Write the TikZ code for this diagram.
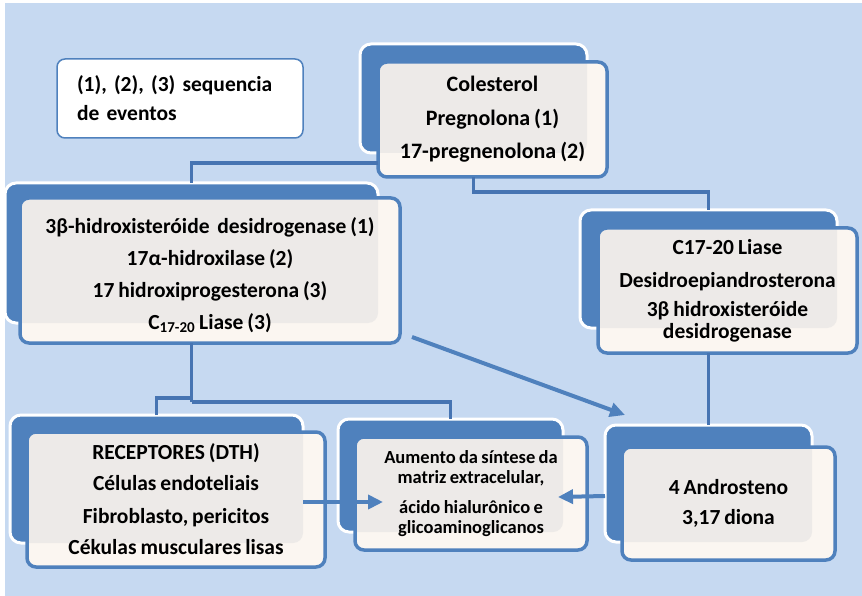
\documentclass[tikz,border=0pt]{standalone}
\usepackage{fontspec}
\setmainfont{Carlito}[WordSpace=0.8]
\usetikzlibrary{arrows.meta,calc,fit}
\pgfdeclarelayer{bg}\pgfdeclarelayer{bk}\pgfdeclarelayer{fr}\pgfdeclarelayer{gr}\pgfdeclarelayer{bd}
\pgfsetlayers{bg,bk,fr,gr,bd,main}
\definecolor{bgblue}{HTML}{C6D9F1}
\definecolor{accent}{HTML}{4F81BD}
\definecolor{connblue}{HTML}{4674B2}
\definecolor{cream}{HTML}{FBF6F1}
\definecolor{innergray}{HTML}{EDEAE8}
% #1 name, #2 back sw, #3 back ne, #4 front centre, #5 front width, #6 front height, #7 options, #8 text
\newcommand\duobox[8]{%
  \node[fit={(#2) (#3)}, inner sep=0pt, outer sep=0pt] (#1b) {};
  \node[inner sep=0pt, outer sep=0pt, align=center, minimum width=#5pt, minimum height=#6pt, #7] (#1) at (#4) {#8};
  \begin{pgfonlayer}{bk}
    \draw[backbox] (#1b.south west) rectangle (#1b.north east);
  \end{pgfonlayer}
  \begin{pgfonlayer}{fr}
    \fill[cream, rounded corners=9pt] (#1.south west) rectangle (#1.north east);
  \end{pgfonlayer}
  \begin{pgfonlayer}{gr}
    \begin{scope}
      \clip[rounded corners=10pt] (#1b.south west) rectangle (#1b.north east);
      \fill[innergray, rounded corners=9pt] (#1.south west) rectangle (#1.north east);
    \end{scope}
  \end{pgfonlayer}
  \begin{pgfonlayer}{bd}
    \draw[accent, line width=3.5pt, rounded corners=9pt] (#1.south west) rectangle (#1.north east);
  \end{pgfonlayer}
}
\begin{document}
\frenchspacing
\begin{tikzpicture}[x=1pt,y=-1pt,
  conn/.style={connblue, line width=3.5pt},
  arr/.style={accent, line width=4pt, -{Triangle[length=15pt,width=14pt]}},
  backbox/.style={fill=accent, draw=white, line width=3pt, rounded corners=11pt},
  bigtext/.style={font=\fontsize{21.5}{24}\selectfont\bfseries},
  smalltext/.style={font=\fontsize{18.5}{20.5}\selectfont\bfseries},
  notebox/.style={fill=white, draw=accent, line width=1.5pt, rounded corners=8pt,
    minimum width=246pt, minimum height=79pt, text width=206pt, align=left, inner sep=0pt,
    font=\fontsize{21.5}{29}\selectfont\bfseries},
]
\useasboundingbox (0,0) rectangle (862,596);
\begin{pgfonlayer}{bg}
\fill[bgblue] (5,3) rectangle (862,596);
\end{pgfonlayer}

\node[notebox] (note) at (180,98.5) {(1), (2), (3) sequencia\\de eventos};

\duobox{top}{360,44}{587,153}{492.5,119.5}{229}{115}{font=\fontsize{22}{24}\selectfont\bfseries}
  {Colesterol\\[9.5pt] Pregnolona (1)\\[9.5pt] 17-pregnenolona (2)}
\duobox{left}{5,183}{378,323}{210,270.5}{380}{145}{bigtext}
  {\rule{0pt}{26pt}3β-hidroxisteróide\ \ desidrogenase (1)\\[8pt] 17α-hidroxilase (2)\\[8pt]
  17 hidroxiprogesterona (3)\\[8pt] C\textsubscript{17-20} Liase (3)}
\duobox{right}{580,210}{837,328}{727.5,290.5}{259}{125}{font=\fontsize{21.5}{23}\selectfont\bfseries}
  {C17-20 Liase\\[10pt] Desidroepiandrosterona\\[6pt] 3β hidroxisteróide\\[-1pt] desidrogenase}
\duobox{rec}{10,415}{303,543}{176,499.5}{298}{135}{bigtext}
  {RECEPTORES (DTH)\\[7pt] Células endoteliais\\[9pt] Fibroblasto, pericitos\\[7pt] Cékulas musculares lisas}
\duobox{mid}{338,419}{563,532}{471,493.5}{232}{113}{smalltext}
  {Aumento da síntese da\\ matriz extracelular,\\[9pt] ácido hialurônico e\\ glicoaminoglicanos}
\duobox{andro}{605,425}{812,542}{728.5,503.5}{213}{113}{bigtext}
  {4 Androsteno\\[6pt] 3,17 diona}

% connectors
\draw[conn] ($(top.south west)+(0,-14)$) -| (leftb.north);
\draw[conn] (topb.south |- top.south) -- ++(0,15) -| (rightb.north);
\draw[conn] (rightb.south |- right.south) -- (androb.north);
\coordinate (j1) at ($(leftb.south |- left.south)+(0,59)$);
\coordinate (j0) at ($(j1)+(0,-4)$);
\draw[conn] (leftb.south |- left.south) -- (j1);
\draw[conn] (recb.north) |- (j0);
\draw[conn] (j1) -| (midb.north);

% arrows
\draw[arr] ($(recb.east)+(0,23)$) -- ($(mid.west)+(28,8.5)$);
\draw[arr] ($(androb.west)+(0,12.5)$) -- ($(mid.east)+(-29,3.5)$);
\draw[arr] ($(left.south east)+(12,-6)$) -- ($(androb.north west)+(20,-10)$);
\end{tikzpicture}
\end{document}
